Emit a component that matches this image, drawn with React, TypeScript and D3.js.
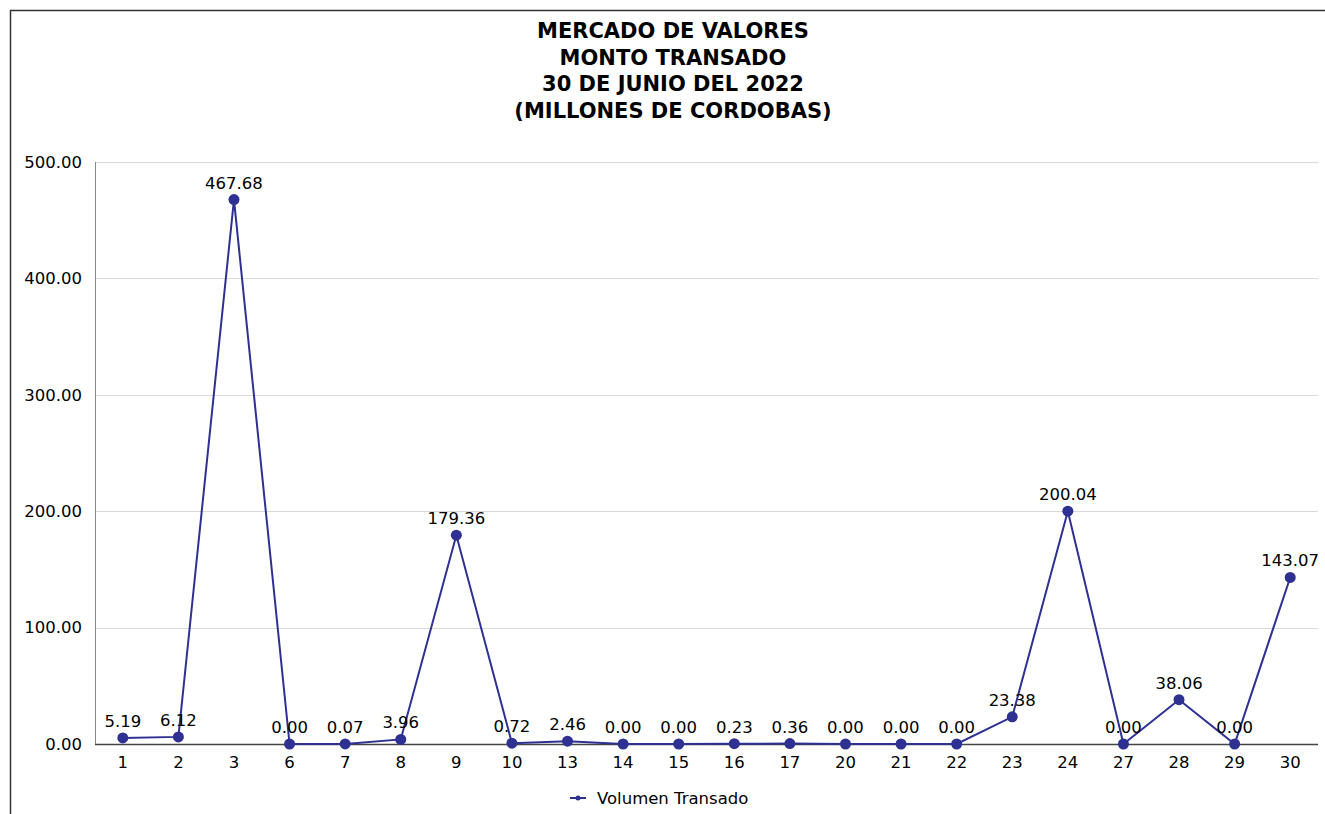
import React, { useEffect, useRef } from 'react';
import * as d3 from 'd3';

const days = ['1', '2', '3', '6', '7', '8', '9', '10', '13', '14', '15', '16', '17', '20', '21', '22', '23', '24', '27', '28', '29', '30'];
const montos = [5.19, 6.12, 467.68, 0.0, 0.07, 3.96, 179.36, 0.72, 2.46, 0.0, 0.0, 0.23, 0.36, 0.0, 0.0, 0.0, 23.38, 200.04, 0.0, 38.06, 0.0, 143.07];
const yTicks = [0, 100, 200, 300, 400, 500];
const titleLines = ['MERCADO DE VALORES', 'MONTO TRANSADO', '30 DE JUNIO DEL 2022', '(MILLONES DE CORDOBAS)'];
const seriesName = 'Volumen Transado';

const W = 1325;
const H = 814;
const margin = { top: 162, right: 7, bottom: 70, left: 95 };
const font = 'Tahoma, Verdana, "DejaVu Sans", sans-serif';
const color = '#2e3192';

const App = () => {
  const ref = useRef<SVGSVGElement>(null);

  useEffect(() => {
    const svg = d3.select(ref.current);
    svg.selectAll('*').remove();

    const innerW = W - margin.left - margin.right;
    const innerH = H - margin.top - margin.bottom;

    // frame
    svg.append('path')
      .attr('d', `M10.5,${H} V10.5 H${W}`)
      .attr('fill', 'none')
      .attr('stroke', '#333')
      .attr('stroke-width', 1.5);

    // title
    const title = svg.append('text')
      .attr('x', 673)
      .attr('text-anchor', 'middle')
      .style('font-family', font)
      .style('font-weight', 'bold')
      .style('font-size', '21px')
      .attr('fill', '#000');
    titleLines.forEach((t, i) => {
      title.append('tspan').attr('x', 673).attr('y', 38 + i * 26.5).text(t);
    });

    const g = svg.append('g').attr('transform', `translate(${margin.left},${margin.top})`);

    const x = d3.scaleBand<string>().domain(days).range([0, innerW]);
    const y = d3.scaleLinear().domain([0, 500]).range([innerH, 0]);

    // grid
    g.selectAll('.grid')
      .data(yTicks.filter((d) => d > 0))
      .enter()
      .append('line')
      .attr('x1', 0)
      .attr('x2', innerW)
      .attr('y1', (d) => Math.round(y(d)) + 0.5)
      .attr('y2', (d) => Math.round(y(d)) + 0.5)
      .attr('stroke', '#d9d9d9')
      .attr('stroke-width', 1);

    // y axis line
    g.append('line')
      .attr('x1', 0.5).attr('x2', 0.5)
      .attr('y1', 0).attr('y2', innerH)
      .attr('stroke', '#888');

    // x axis line
    g.append('line')
      .attr('x1', 0).attr('x2', innerW)
      .attr('y1', Math.round(innerH) + 0.5).attr('y2', Math.round(innerH) + 0.5)
      .attr('stroke', '#444')
      .attr('stroke-width', 1.5);

    // y labels
    g.selectAll('.ylab')
      .data(yTicks)
      .enter()
      .append('text')
      .attr('x', -13)
      .attr('y', (d) => y(d))
      .attr('dy', '0.35em')
      .attr('text-anchor', 'end')
      .style('font-family', font)
      .style('font-size', '16.5px')
      .attr('fill', '#000')
      .text((d) => d3.format('.2f')(d));

    // x labels
    g.selectAll('.xlab')
      .data(days)
      .enter()
      .append('text')
      .attr('x', (d) => (x(d) ?? 0) + x.bandwidth() / 2)
      .attr('y', innerH + 24)
      .attr('text-anchor', 'middle')
      .style('font-family', font)
      .style('font-size', '16.5px')
      .attr('fill', '#000')
      .text((d) => d);

    const pts = days.map((d, i) => ({ d, v: montos[i] }));
    const cx = (p: { d: string }) => (x(p.d) ?? 0) + x.bandwidth() / 2;

    const line = d3.line<{ d: string; v: number }>()
      .x((p) => cx(p))
      .y((p) => y(p.v));

    g.append('path')
      .datum(pts)
      .attr('d', line)
      .attr('fill', 'none')
      .attr('stroke', color)
      .attr('stroke-width', 2);

    g.selectAll('.dot')
      .data(pts)
      .enter()
      .append('circle')
      .attr('cx', cx)
      .attr('cy', (p) => y(p.v))
      .attr('r', 5.5)
      .attr('fill', color);

    g.selectAll('.vlab')
      .data(pts)
      .enter()
      .append('text')
      .attr('x', cx)
      .attr('y', (p) => y(p.v) - 11)
      .attr('text-anchor', 'middle')
      .style('font-family', font)
      .style('font-size', '16.5px')
      .attr('fill', '#000')
      .text((p) => d3.format('.2f')(p.v));

    // legend
    const lg = svg.append('g').attr('transform', 'translate(570,798)');
    lg.append('line').attr('x1', 0).attr('x2', 16).attr('y1', 0).attr('y2', 0)
      .attr('stroke', color).attr('stroke-width', 2);
    lg.append('circle').attr('cx', 8).attr('cy', 0).attr('r', 2.5).attr('fill', color);
    lg.append('text')
      .attr('x', 27)
      .attr('y', 0)
      .attr('dy', '0.35em')
      .style('font-family', font)
      .style('font-size', '16.5px')
      .attr('fill', '#000')
      .text(seriesName);
  }, []);

  return (
    <svg
      ref={ref}
      width={W}
      height={H}
      style={{ position: 'absolute', left: 0, top: 0, background: '#fff' }}
    />
  );
};

export default App;
